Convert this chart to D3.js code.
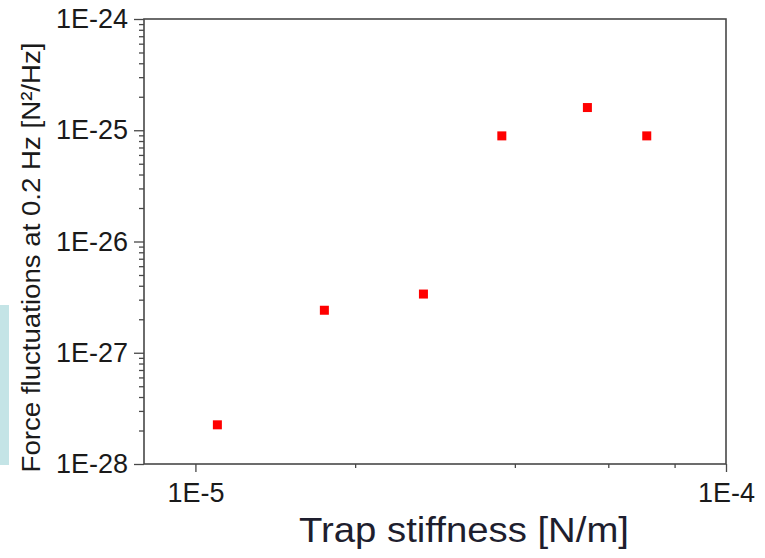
<!DOCTYPE html>
<html>
<head>
<meta charset="utf-8">
<script src="https://cdn.jsdelivr.net/npm/d3@7"></script>
<style>
  body { margin: 0; background: #fff; }
  svg { display: block; font-family: "Liberation Sans", Arial, sans-serif; }
</style>
</head>
<body>
<svg id="chart"></svg>
<script>
const width = 765;
const height = 558;

// trap stiffness [N/m] and force fluctuations at 0.2 Hz [N^2/Hz]
const stiffness = [1.10e-5, 1.75e-5, 2.69e-5, 3.78e-5, 5.48e-5, 7.09e-5];
const fluctuations = [2.25e-28, 2.41e-27, 3.37e-27, 8.9e-26, 1.6e-25, 8.9e-26];

const xMajorTicks = [1e-5, 1e-4];
const xMinorTicks = [2e-5, 4e-5, 6e-5, 8e-5];
const yMajorTicks = [1e-28, 1e-27, 1e-26, 1e-25, 1e-24];

const plot = { left: 144, right: 726, top: 19, bottom: 464 };

const svg = d3.select("#chart").attr("width", width).attr("height", height);

// light cyan strip at the left edge
svg.append("rect")
  .attr("x", 0).attr("y", 305)
  .attr("width", 9).attr("height", 160)
  .attr("fill", "#c4e4e6");

const x = d3.scaleLog().domain([8e-6, 1e-4]).range([plot.left, plot.right]);
const y = d3.scaleLog().domain([1e-28, 1e-24]).range([plot.bottom, plot.top]);

const fmt = (d) => "1E" + Math.round(Math.log10(d));

// y minor ticks: 2..9 of every decade
const yMinorTicks = y.ticks().filter(
  (d) => Math.abs(Math.log10(d) - Math.round(Math.log10(d))) > 1e-6
);

const axisColor = "#484848";

// x axis minor
svg.append("g")
  .attr("transform", `translate(0,${plot.bottom})`)
  .call(d3.axisBottom(x).tickValues(xMinorTicks).tickSize(4).tickFormat("").tickSizeOuter(0))
  .call((g) => g.select(".domain").remove())
  .call((g) => g.selectAll("line").attr("stroke", axisColor).attr("stroke-width", 1.3));

// x axis major
svg.append("g")
  .attr("transform", `translate(0,${plot.bottom})`)
  .call(d3.axisBottom(x).tickValues(xMajorTicks).tickSize(8).tickPadding(11).tickFormat(fmt).tickSizeOuter(0))
  .call((g) => g.select(".domain").remove())
  .call((g) => g.selectAll("line").attr("stroke", axisColor).attr("stroke-width", 1.3))
  .call((g) => g.selectAll("text")
    .attr("fill", "#1a1a1a")
    .style("font-size", "27px"));

// y axis minor
svg.append("g")
  .attr("transform", `translate(${plot.left},0)`)
  .call(d3.axisLeft(y).tickValues(yMinorTicks).tickSize(5).tickFormat("").tickSizeOuter(0))
  .call((g) => g.select(".domain").remove())
  .call((g) => g.selectAll("line").attr("stroke", axisColor).attr("stroke-width", 1.3));

// y axis major
svg.append("g")
  .attr("transform", `translate(${plot.left},0)`)
  .call(d3.axisLeft(y).tickValues(yMajorTicks).tickSize(10).tickPadding(6).tickFormat(fmt).tickSizeOuter(0))
  .call((g) => g.select(".domain").remove())
  .call((g) => g.selectAll("line").attr("stroke", axisColor).attr("stroke-width", 1.3))
  .call((g) => g.selectAll("text")
    .attr("fill", "#1a1a1a")
    .style("font-size", "27px"));

// frame
svg.append("rect")
  .attr("x", plot.left).attr("y", plot.top)
  .attr("width", plot.right - plot.left).attr("height", plot.bottom - plot.top)
  .attr("fill", "none")
  .attr("stroke", axisColor)
  .attr("stroke-width", 1.6);

// points
const pts = stiffness.map((s, i) => ({ s, f: fluctuations[i] }));
const size = 9;
svg.append("g")
  .selectAll("rect")
  .data(pts)
  .enter()
  .append("rect")
  .attr("x", (d) => x(d.s) - size / 2)
  .attr("y", (d) => y(d.f) - size / 2)
  .attr("width", size)
  .attr("height", size)
  .attr("fill", "#ff0000");

// axis titles
svg.append("text")
  .attr("x", 464)
  .attr("y", 542)
  .attr("text-anchor", "middle")
  .attr("fill", "#1e1e2e")
  .attr("textLength", 330)
  .attr("lengthAdjust", "spacingAndGlyphs")
  .style("font-size", "35px")
  .text("Trap stiffness [N/m]");

svg.append("text")
  .attr("transform", "translate(40,257.5) rotate(-90)")
  .attr("text-anchor", "middle")
  .attr("fill", "#1a1a1a")
  .attr("textLength", 430)
  .attr("lengthAdjust", "spacingAndGlyphs")
  .style("font-size", "26.5px")
  .text("Force fluctuations at 0.2 Hz [N²/Hz]");
</script>
</body>
</html>
